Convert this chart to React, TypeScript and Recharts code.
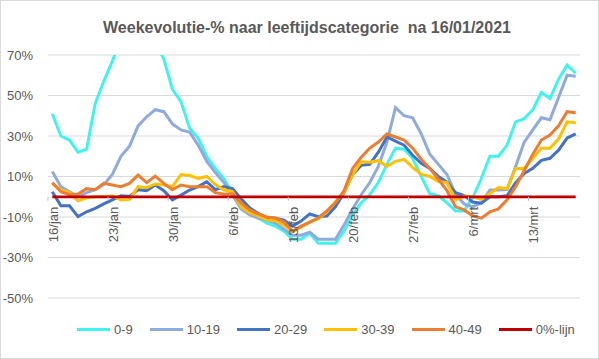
import { CartesianGrid, Line, LineChart, ReferenceLine, XAxis, YAxis } from 'recharts';

const dates = [
  '16/jan', '17/jan', '18/jan', '19/jan', '20/jan', '21/jan', '22/jan', '23/jan', '24/jan', '25/jan',
  '26/jan', '27/jan', '28/jan', '29/jan', '30/jan', '31/jan',
  '1/feb', '2/feb', '3/feb', '4/feb', '5/feb', '6/feb', '7/feb', '8/feb', '9/feb', '10/feb',
  '11/feb', '12/feb', '13/feb', '14/feb', '15/feb', '16/feb', '17/feb', '18/feb', '19/feb', '20/feb',
  '21/feb', '22/feb', '23/feb', '24/feb', '25/feb', '26/feb', '27/feb', '28/feb',
  '1/mrt', '2/mrt', '3/mrt', '4/mrt', '5/mrt', '6/mrt', '7/mrt', '8/mrt', '9/mrt', '10/mrt',
  '11/mrt', '12/mrt', '13/mrt', '14/mrt', '15/mrt', '16/mrt', '17/mrt', '18/mrt',
];

const tickLabels = ['16/jan', '23/jan', '30/jan', '6/feb', '13/feb', '20/feb', '27/feb', '6/mrt', '13/mrt'];
const yTicks = [-50, -30, -10, 10, 30, 50, 70];

const age0to9 = [
  41, 30, 28, 22, 23.5, 46, 57, 67, 78, 86, 90, 86, 76, 68, 53, 47, 34, 29, 20, 14,
  9, 1.5, -4, -8, -10.5, -13, -14.5, -17, -21, -21, -18, -23, -23, -23, -17, -9, -3, 1, 7, 16,
  24, 23.5, 19, 10, 1.5, 0.5, -3, -7, -7, -0.5, 9, 20, 20, 25.5, 37, 38.5, 43, 51.5, 48.5, 58,
  65, 61,
];
const age10to19 = [
  12.5, 5, 2.5, 0, 2, 3.5, 6, 11, 20, 25, 35, 39.5, 43, 42, 36, 33, 32, 25.5, 17.5, 12,
  7, 1, -6, -9, -10.5, -11.5, -13, -16, -19, -19, -17.5, -21, -21, -21, -14, -6, 1, 7, 15, 27,
  44, 40, 39, 31, 21, 16, 11, 1, -3.5, -5, -3, 3.3, 3.3, 3.5, 15, 27, 33, 39, 38, 49,
  60, 59.5,
];
const age20to29 = [
  2.5, -4.5, -4.5, -9.8, -7.4, -5.7, -3.5, -1.5, 0.5, 0.2, 3.5, 3, 5.8, 3, -1.5, 0.8, 3.3, 5, 7.4, 3.5,
  5, 4, -1, -5.5, -8.2, -10.5, -10.6, -11.5, -14.5, -12, -8.5, -9.8, -9.5, -5, 2, 11, 15.5, 16, 22, 29.5,
  27.5, 25.5, 20.5, 16.5, 14, 10, 7.2, 2, 0.6, -2.6, -3.2, 0, 0, 0.5, 7, 11.5, 14, 18, 19, 23,
  29, 31,
];
const age30to39 = [
  6.5, 3.3, 2, -2, -0.5, 0, 0, 0.5, -1.6, -1.3, 5, 4.5, 6.3, 5.8, 5, 11, 10.5, 9, 10, 6,
  3.3, 2.5, -5, -8, -9.5, -11.5, -11.8, -14, -17.3, -15, -12.5, -10.8, -7.5, -2.5, 2, 11, 17.3, 17, 17.8, 15,
  17.5, 18.5, 14.5, 11, 10, 7.5, 7, -1.5, 0.3, 0, -1.3, 1.7, 4.5, 4, 14, 14, 19, 24, 24, 28.5,
  37, 36.5,
];
const age40to49 = [
  7, 2.5, 1, 1.3, 4, 3.5, 6.6, 5.8, 5, 6.6, 10.7, 7, 10.2, 6.6, 3.5, 5.8, 5, 5, 5, 2,
  1.2, 1.5, -3, -6.5, -8.5, -10, -10.5, -12.5, -17, -14.5, -12.5, -10.5, -7, -3, 3, 14, 19.5, 24, 27, 31,
  29.5, 28, 24, 18.5, 14, 8.5, 3, -5, -6.5, -9.5, -10.6, -7.5, -6, -1.5, 5, 13, 21, 28, 30.5, 35,
  42, 41.5,
];

const series = [
  { key: 'a', name: '0-9', color: '#3ff3ee', values: age0to9 },
  { key: 'b', name: '10-19', color: '#8faadc', values: age10to19 },
  { key: 'c', name: '20-29', color: '#4472c4', values: age20to29 },
  { key: 'd', name: '30-39', color: '#ffc000', values: age30to39 },
  { key: 'e', name: '40-49', color: '#ed7d31', values: age40to49 },
];
const zeroLine = { name: '0%-lijn', color: '#c00000' };

// category centre = index + 0.5 so ticks fall on the category boundaries like Excel
const rows = dates.map((date, i) => {
  const row: Record<string, number | string> = { x: i + 0.5, date };
  series.forEach((s) => {
    row[s.key] = s.values[i];
  });
  return row;
});

const W = 599;
const H = 359;
const PLOT_TOP = 55;
const PLOT_BOTTOM = 298;
const X_AXIS_H = 20;
const Y_MIN = -50;
const Y_MAX = 70;
const ZERO_Y = PLOT_TOP + ((PLOT_BOTTOM - PLOT_TOP) * Y_MAX) / (Y_MAX - Y_MIN);
const TEXT = '#595959';

function renderDateTick(props: any) {
  const { x, payload } = props;
  const tx = x + 5;
  const ty = ZERO_Y + 10;
  return (
    <g key={`tick-${payload.value}`}>
      <line x1={x} x2={x} y1={ZERO_Y} y2={ZERO_Y + 4} stroke="#bfbfbf" />
      <text
        x={tx}
        y={ty}
        transform={`rotate(-90 ${tx} ${ty})`}
        textAnchor="end"
        dominantBaseline="central"
        fill={TEXT}
        fontSize={13}
      >
        {dates[payload.value]}
      </text>
    </g>
  );
}

export default function App() {
  const legendItems = [...series.map((s) => ({ name: s.name, color: s.color })), zeroLine];

  return (
    <div
      style={{
        position: 'fixed',
        top: 0,
        left: 0,
        width: W,
        height: H,
        background: '#fff',
        fontFamily: '"Liberation Sans", Arial, sans-serif',
      }}
    >
      <div
        style={{
          position: 'absolute',
          top: 20,
          left: 0,
          width: 614,
          textAlign: 'center',
          fontSize: 16,
          lineHeight: '16px',
          fontWeight: 700,
          color: TEXT,
          whiteSpace: 'pre',
        }}
      >
        {'Weekevolutie-% naar leeftijdscategorie  na 16/01/2021'}
      </div>

      <div style={{ position: 'absolute', top: 0, left: 0 }}>
        <LineChart
          width={W}
          height={H}
          data={rows}
          margin={{ top: PLOT_TOP, right: 19, bottom: H - PLOT_BOTTOM - X_AXIS_H, left: 0 }}
        >
          <CartesianGrid stroke="#d9d9d9" vertical={false} horizontalValues={yTicks} />
          <XAxis
            type="number"
            dataKey="x"
            domain={[0, dates.length]}
            ticks={tickLabels.map((t) => dates.indexOf(t))}
            interval={0}
            height={X_AXIS_H}
            axisLine={false}
            tickLine={false}
            tick={renderDateTick}
          />
          <YAxis
            width={48}
            domain={[Y_MIN, Y_MAX]}
            ticks={yTicks}
            allowDataOverflow
            axisLine={false}
            tickLine={false}
            tickSize={0}
            tickMargin={15}
            tick={{ fill: TEXT, fontSize: 13 }}
            tickFormatter={(v) => `${v}%`}
          />
          {series.map((s) => (
            <Line
              key={s.key}
              type="linear"
              dataKey={s.key}
              name={s.name}
              stroke={s.color}
              strokeWidth={3}
              dot={false}
              isAnimationActive={false}
            />
          ))}
          <ReferenceLine
            segment={[
              { x: rows[0].x as number, y: 0 },
              { x: rows[rows.length - 1].x as number, y: 0 },
            ]}
            stroke={zeroLine.color}
            strokeWidth={2.75}
          />
        </LineChart>
      </div>

      <div
        style={{
          position: 'absolute',
          top: 321,
          left: 77,
          display: 'flex',
          alignItems: 'center',
          gap: 17,
          height: 16,
          fontSize: 13,
          color: TEXT,
        }}
      >
        {legendItems.map((item) => (
          <div key={item.name} style={{ display: 'flex', alignItems: 'center' }}>
            <span style={{ display: 'inline-block', width: 33, height: 3, background: item.color, marginRight: 4 }} />
            <span>{item.name}</span>
          </div>
        ))}
      </div>

      <div
        style={{
          position: 'absolute',
          inset: 0,
          border: '1px solid #d9d9d9',
          pointerEvents: 'none',
        }}
      />
    </div>
  );
}
